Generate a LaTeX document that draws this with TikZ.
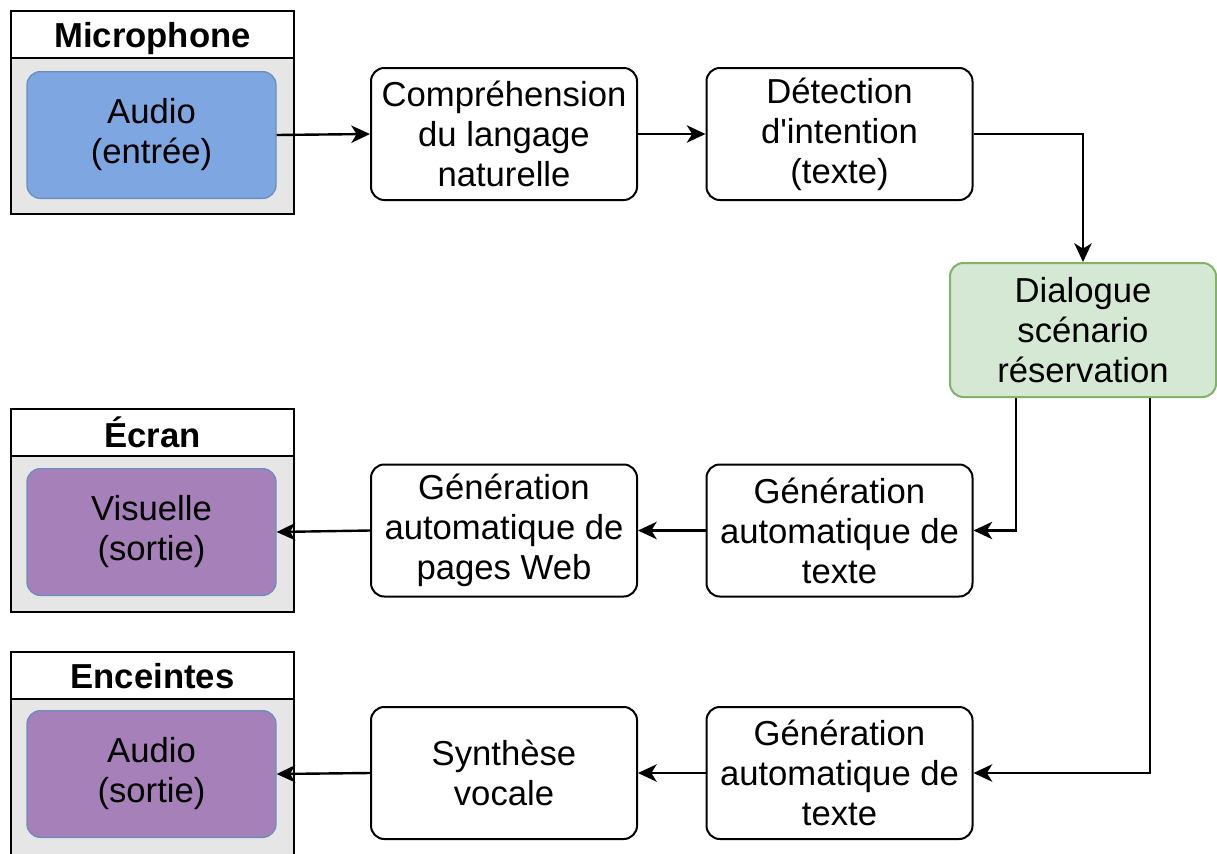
\documentclass[tikz,border=0pt]{standalone}
\usepackage{fontspec}
\setmainfont{Liberation Sans}[Ligatures=TeXOff]
\usetikzlibrary{arrows.meta,calc,positioning}
\definecolor{contfill}{HTML}{E6E6E6}
\definecolor{bluefill}{HTML}{7EA6E0}
\definecolor{bluestroke}{HTML}{6C8EBF}
\definecolor{purplefill}{HTML}{A680B8}
\definecolor{greenfill}{HTML}{D5E8D4}
\definecolor{greenstroke}{HTML}{82B366}
\tikzset{
  txt/.style={font=\fontsize{26}{30}\selectfont, align=center},
  procbox/.style={txt, draw=black, line width=1.5pt, fill=white, rounded corners=10pt,
    minimum width=199.5pt, minimum height=99pt, inner sep=0pt},
  container/.style={draw=black, line width=1.5pt, fill=contfill, anchor=north west,
    minimum width=212.25pt, minimum height=152.25pt, inner sep=0pt},
  header/.style={draw=black, line width=1.5pt, fill=white, anchor=north west,
    minimum width=212.25pt, minimum height=35.25pt, inner sep=0pt, text depth=0pt,
    font=\fontsize{26}{30}\selectfont\bfseries},
  inner/.style={txt, draw=bluestroke, line width=1pt, rounded corners=10pt,
    minimum width=186.75pt, minimum height=95pt, inner sep=0pt},
  arr/.style={draw=black, line width=1.8pt, -{Stealth[length=14pt,width=13pt,inset=4pt]}},
}
\begin{document}
\begin{tikzpicture}[x=0.75pt,y=-0.75pt]
\useasboundingbox (0,0) rectangle (1217,853);
% containers
\node[container] (micc) at (10,10) {};
\node[header] (mich) at (10,10) {Microphone};
\node[inner, fill=bluefill] (ain) at (151.5,135) {Audio\\(entrée)};

\node[container] (ecrc) at (10,408) {};
\node[header] (ecrh) at (10,408) {Écran};
\node[inner, fill=purplefill] (vout) at (151.5,532) {Visuelle\\(sortie)};

\node[container] (encc) at (10,651) {};
\node[header] (ench) at (10,651) {Enceintes};
\node[inner, fill=purplefill] (aout) at (151.5,774) {Audio\\(sortie)};

% process boxes
\node[procbox] (comp) at (504,134) {Compréhension\\du langage\\naturelle};
\node[procbox] (detect) at (839.5,134) {Détection\\d'intention\\(texte)};
\node[procbox, fill=greenfill, draw=greenstroke, minimum height=100.5pt] (dialog) at (1083,330) {Dialogue\\scénario\\réservation};
\node[procbox] (web) at (504,530.5) {Génération\\automatique de\\pages Web};
\node[procbox] (gen1) at (839.5,530.5) {Génération\\automatique de\\texte};
\node[procbox] (synth) at (504,773) {Synthèse\\vocale};
\node[procbox] (gen2) at (839.5,773) {Génération\\automatique de\\texte};

% connectors
\draw[arr] (ain.east) -- (comp.west);
\draw[arr] (comp.east) -- (detect.west);
\draw[arr] (detect.east) -| (dialog.north);
\coordinate (dl) at ($(dialog.south west)!0.25!(dialog.south east)$);
\coordinate (dr) at ($(dialog.south west)!0.75!(dialog.south east)$);
\draw[arr] (dl) |- (gen1.east);
\draw[arr] (dr) |- (gen2.east);
\draw[arr] (gen1.west) -- (web.east);
\draw[arr] (web.west) -- (vout.east);
\draw[arr] (gen2.west) -- (synth.east);
\draw[arr] (synth.west) -- (aout.east);
\end{tikzpicture}
\end{document}
